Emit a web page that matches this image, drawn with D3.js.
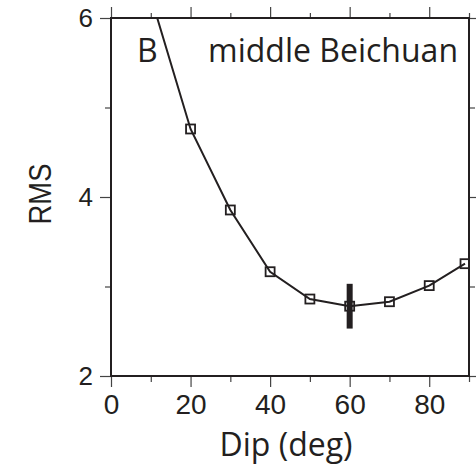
<!DOCTYPE html>
<html><head><meta charset="utf-8">
<script src="https://cdn.jsdelivr.net/npm/d3@7"></script>
<style>html,body{margin:0;padding:0;background:#fff;}svg{display:block;}</style>
</head><body>
<script>
// ---- data ----
const dips = [10, 20, 30, 40, 50, 60, 70, 80, 89];
const rms  = [6.24, 4.76, 3.855, 3.165, 2.86, 2.78, 2.83, 3.01, 3.255];
const bestDip = 60, bestRms = 2.78, bestErr = 0.25;
const xMajor = [0, 20, 40, 60, 80];
const xMinor = [10, 30, 50, 70, 90];
const yMajor = [2, 4, 6];
const yMinor = [3, 5];
const panelLabel = "B", panelTitle = "middle Beichuan";
const xTitle = "Dip (deg)", yTitle = "RMS";

const W = 476, H = 469;
const L = 111, R = 469, T = 18, B = 376;
const ink = "#231f20";
const svg = d3.select("body").append("svg").attr("width", W).attr("height", H);
const x = d3.scaleLinear().domain([0, 90]).range([L, R]);
const y = d3.scaleLinear().domain([2, 6]).range([B, T]);

svg.append("clipPath").attr("id", "clip").append("rect")
  .attr("x", L).attr("y", T).attr("width", R - L).attr("height", B - T);

function axis(gen, tr, vals, size, labels, fs) {
  const g = svg.append("g").attr("transform", tr)
    .call(gen.tickValues(vals).tickSize(size).tickPadding(labels ? 7 : 0)
      .tickFormat(labels ? d3.format("d") : () => ""));
  g.select(".domain").remove();
  g.selectAll(".tick line").attr("stroke", "#444").attr("stroke-width", 1.2);
  g.selectAll("text").attr("font-family", "Liberation Sans, Arial, sans-serif")
    .attr("font-size", fs || 26).attr("fill", ink);
  return g;
}
// bottom
axis(d3.axisBottom(x), `translate(0,${B})`, xMajor, 11, true, 28);
axis(d3.axisBottom(x), `translate(0,${B})`, xMinor, 6, false);
// top
axis(d3.axisTop(x), `translate(0,${T})`, xMajor, 11, false);
axis(d3.axisTop(x), `translate(0,${T})`, xMinor, 5, false);
// left
axis(d3.axisLeft(y), `translate(${L},0)`, yMajor, 11, true, 26);
axis(d3.axisLeft(y), `translate(${L},0)`, yMinor, 6, false);
// right
axis(d3.axisRight(y), `translate(${R},0)`, yMajor, 8, false);
axis(d3.axisRight(y), `translate(${R},0)`, yMinor, 6, false);

// data
const pts = dips.map((d, i) => [d, rms[i]]);
const plot = svg.append("g").attr("clip-path", "url(#clip)");
plot.append("path").datum(pts)
  .attr("d", d3.line().x(d => x(d[0])).y(d => y(d[1])))
  .attr("fill", "none").attr("stroke", ink).attr("stroke-width", 2);
const s = 9;
plot.selectAll("rect.m").data(pts).enter().append("rect").attr("class", "m")
  .attr("x", d => x(d[0]) - s / 2).attr("y", d => y(d[1]) - s / 2)
  .attr("width", s).attr("height", s)
  .attr("fill", "none").attr("stroke", ink).attr("stroke-width", 1.8);
// error bar
plot.append("rect")
  .attr("x", x(bestDip) - 3).attr("width", 6)
  .attr("y", y(bestRms + bestErr)).attr("height", y(bestRms - bestErr) - y(bestRms + bestErr))
  .attr("fill", ink);

// frame
svg.append("rect").attr("x", L).attr("y", T).attr("width", R - L).attr("height", B - T)
  .attr("fill", "none").attr("stroke", ink).attr("stroke-width", 2);

// texts
const myriad = "Open Sans, Noto Sans, sans-serif";
svg.append("text").text(panelLabel).attr("x", 137).attr("y", 62)
  .attr("font-family", myriad).attr("font-size", 32).attr("fill", ink);
svg.append("text").text(panelTitle).attr("x", 458).attr("y", 62).attr("text-anchor", "end")
  .attr("font-family", myriad).attr("font-size", 32).attr("fill", ink);
svg.append("text").text(xTitle).attr("x", (L + R) / 2 - 4).attr("y", 456).attr("text-anchor", "middle")
  .attr("font-family", myriad).attr("font-size", 32).attr("fill", ink);
svg.append("text").text(yTitle).attr("transform", `translate(51,${(T + B) / 2 - 3}) rotate(-90)`)
  .attr("text-anchor", "middle")
  .attr("font-family", "Liberation Sans, Arial, sans-serif").attr("font-size", 31)
  .attr("textLength", 61).attr("lengthAdjust", "spacingAndGlyphs").attr("fill", ink);
</script>
</body></html>
